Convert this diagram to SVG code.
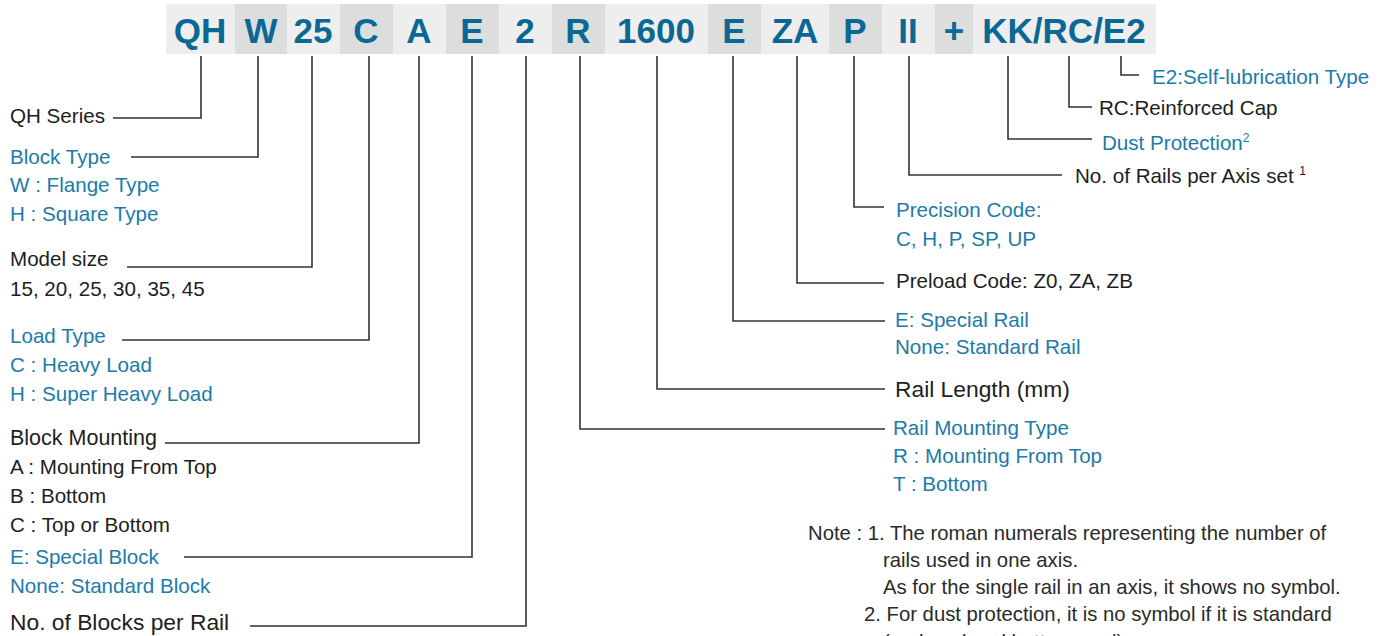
<svg xmlns="http://www.w3.org/2000/svg" width="1394" height="636" viewBox="0 0 1394 636">
<style>
.bg{fill:#ffffff}
.lt{fill:#eeeeee}
.dk{fill:#dcdedd}
.code{font-family:"Liberation Sans",Arial,sans-serif;font-weight:bold;font-size:35px;fill:#0b6895;text-anchor:middle}
.b{font-family:"Liberation Sans",Arial,sans-serif;font-size:20.6px;fill:#1c7ba8}
.k{font-family:"Liberation Sans",Arial,sans-serif;font-size:20.6px;fill:#1e1e1e}
.kl{font-family:"Liberation Sans",Arial,sans-serif;font-size:21.5px;fill:#1e1e1e}
.kx{font-family:"Liberation Sans",Arial,sans-serif;font-size:22.8px;fill:#1e1e1e}
.n{font-family:"Liberation Sans",Arial,sans-serif;font-size:20.3px;fill:#2a2a2a}
.sup{font-size:12px}
.ln{fill:none;stroke:#333333;stroke-width:1.6}
</style>
<rect class="bg" x="0" y="0" width="1394" height="636"/>
<g id="header">
<rect class="lt" x="166" y="4" width="69" height="50"/>
<rect class="dk" x="235" y="4" width="52" height="50"/>
<rect class="lt" x="287" y="4" width="53" height="50"/>
<rect class="dk" x="340" y="4" width="53" height="50"/>
<rect class="lt" x="393" y="4" width="53" height="50"/>
<rect class="dk" x="446" y="4" width="53" height="50"/>
<rect class="lt" x="499" y="4" width="53" height="50"/>
<rect class="dk" x="552" y="4" width="53" height="50"/>
<rect class="lt" x="605" y="4" width="103" height="50"/>
<rect class="dk" x="708" y="4" width="53" height="50"/>
<rect class="lt" x="761" y="4" width="68" height="50"/>
<rect class="dk" x="829" y="4" width="53" height="50"/>
<rect class="lt" x="882" y="4" width="53" height="50"/>
<rect class="dk" x="935" y="4" width="38" height="50"/>
<rect class="lt" x="973" y="4" width="183" height="50"/>
<text class="code" x="200" y="43">QH</text>
<text class="code" x="261" y="43">W</text>
<text class="code" x="313" y="43">25</text>
<text class="code" x="366" y="43">C</text>
<text class="code" x="419" y="43">A</text>
<text class="code" x="472" y="43">E</text>
<text class="code" x="525" y="43">2</text>
<text class="code" x="578" y="43">R</text>
<text class="code" x="656" y="43">1600</text>
<text class="code" x="734" y="43">E</text>
<text class="code" x="795" y="43">ZA</text>
<text class="code" x="855" y="43">P</text>
<text class="code" x="908" y="43">II</text>
<text class="code" x="954" y="43">+</text>
<text class="code" x="1064" y="43">KK/RC/E2</text>
</g>
<g id="connectors">
<polyline class="ln" points="201,56 201,118 113,118"/>
<polyline class="ln" points="258,56 258,157 131,157"/>
<polyline class="ln" points="312,56 312,267 127,267"/>
<polyline class="ln" points="369,56 369,340 122,340"/>
<polyline class="ln" points="419,56 419,443 165,443"/>
<polyline class="ln" points="472,56 472,557 184,557"/>
<polyline class="ln" points="526,56 526,626 250,626"/>
<polyline class="ln" points="580,56 580,429 885,429"/>
<polyline class="ln" points="657,56 657,389 885,389"/>
<polyline class="ln" points="733,56 733,321 885,321"/>
<polyline class="ln" points="797,56 797,283 884,283"/>
<polyline class="ln" points="854,56 854,207 884,207"/>
<polyline class="ln" points="909,56 909,175 1062,175"/>
<polyline class="ln" points="1008,56 1008,139 1092,139"/>
<polyline class="ln" points="1069,56 1069,107 1092,107"/>
<polyline class="ln" points="1121,56 1121,75 1139,75"/>
</g>
<g id="qh-series"><text class="k" x="10" y="123">QH Series</text></g>
<g id="block-type">
<text class="b" x="10" y="164">Block Type</text>
<text class="b" x="10" y="192">W : Flange Type</text>
<text class="b" x="10" y="221">H : Square Type</text>
</g>
<g id="model-size">
<text class="k" x="10" y="266">Model size</text>
<text class="k" x="10" y="296">15, 20, 25, 30, 35, 45</text>
</g>
<g id="load-type">
<text class="b" x="10" y="343">Load Type</text>
<text class="b" x="10" y="372">C : Heavy Load</text>
<text class="b" x="10" y="401">H : Super Heavy Load</text>
</g>
<g id="block-mounting">
<text class="kl" x="10" y="445">Block Mounting</text>
<text class="k" x="10" y="474">A : Mounting From Top</text>
<text class="k" x="10" y="503">B : Bottom</text>
<text class="k" x="10" y="532">C : Top or Bottom</text>
</g>
<g id="special-block">
<text class="b" x="10" y="564">E: Special Block</text>
<text class="b" x="10" y="593">None: Standard Block</text>
</g>
<g id="blocks-per-rail"><text class="kx" x="10" y="630">No. of Blocks per Rail</text></g>
<g id="rail-mounting">
<text class="b" x="893" y="435">Rail Mounting Type</text>
<text class="b" x="893" y="463">R : Mounting From Top</text>
<text class="b" x="893" y="491">T : Bottom</text>
</g>
<g id="rail-length"><text class="kx" x="895" y="397">Rail Length (mm)</text></g>
<g id="special-rail">
<text class="b" x="895" y="327">E: Special Rail</text>
<text class="b" x="895" y="354">None: Standard Rail</text>
</g>
<g id="preload"><text class="k" x="896" y="288">Preload Code: Z0, ZA, ZB</text></g>
<g id="precision">
<text class="b" x="896" y="217">Precision Code:</text>
<text class="b" x="896" y="246">C, H, P, SP, UP</text>
</g>
<g id="rails-per-axis"><text class="k" x="1075" y="183">No. of Rails per Axis set <tspan class="sup" dy="-8">1</tspan></text></g>
<g id="dust"><text class="b" x="1102" y="150">Dust Protection<tspan class="sup" dy="-8">2</tspan></text></g>
<g id="cap"><text class="k" x="1099" y="115">RC:Reinforced Cap</text></g>
<g id="lube"><text class="b" x="1152" y="84">E2:Self-lubrication Type</text></g>
<g id="notes">
<text class="n" x="808" y="540">Note : 1. The roman numerals representing the number of</text>
<text class="n" x="883" y="567">rails used in one axis.</text>
<text class="n" x="883" y="594">As for the single rail in an axis, it shows no symbol.</text>
<text class="n" x="864" y="621">2. For dust protection, it is no symbol if it is standard</text>
<text class="n" x="883" y="649">(end seal and bottom seal)</text>
</g>
</svg>
